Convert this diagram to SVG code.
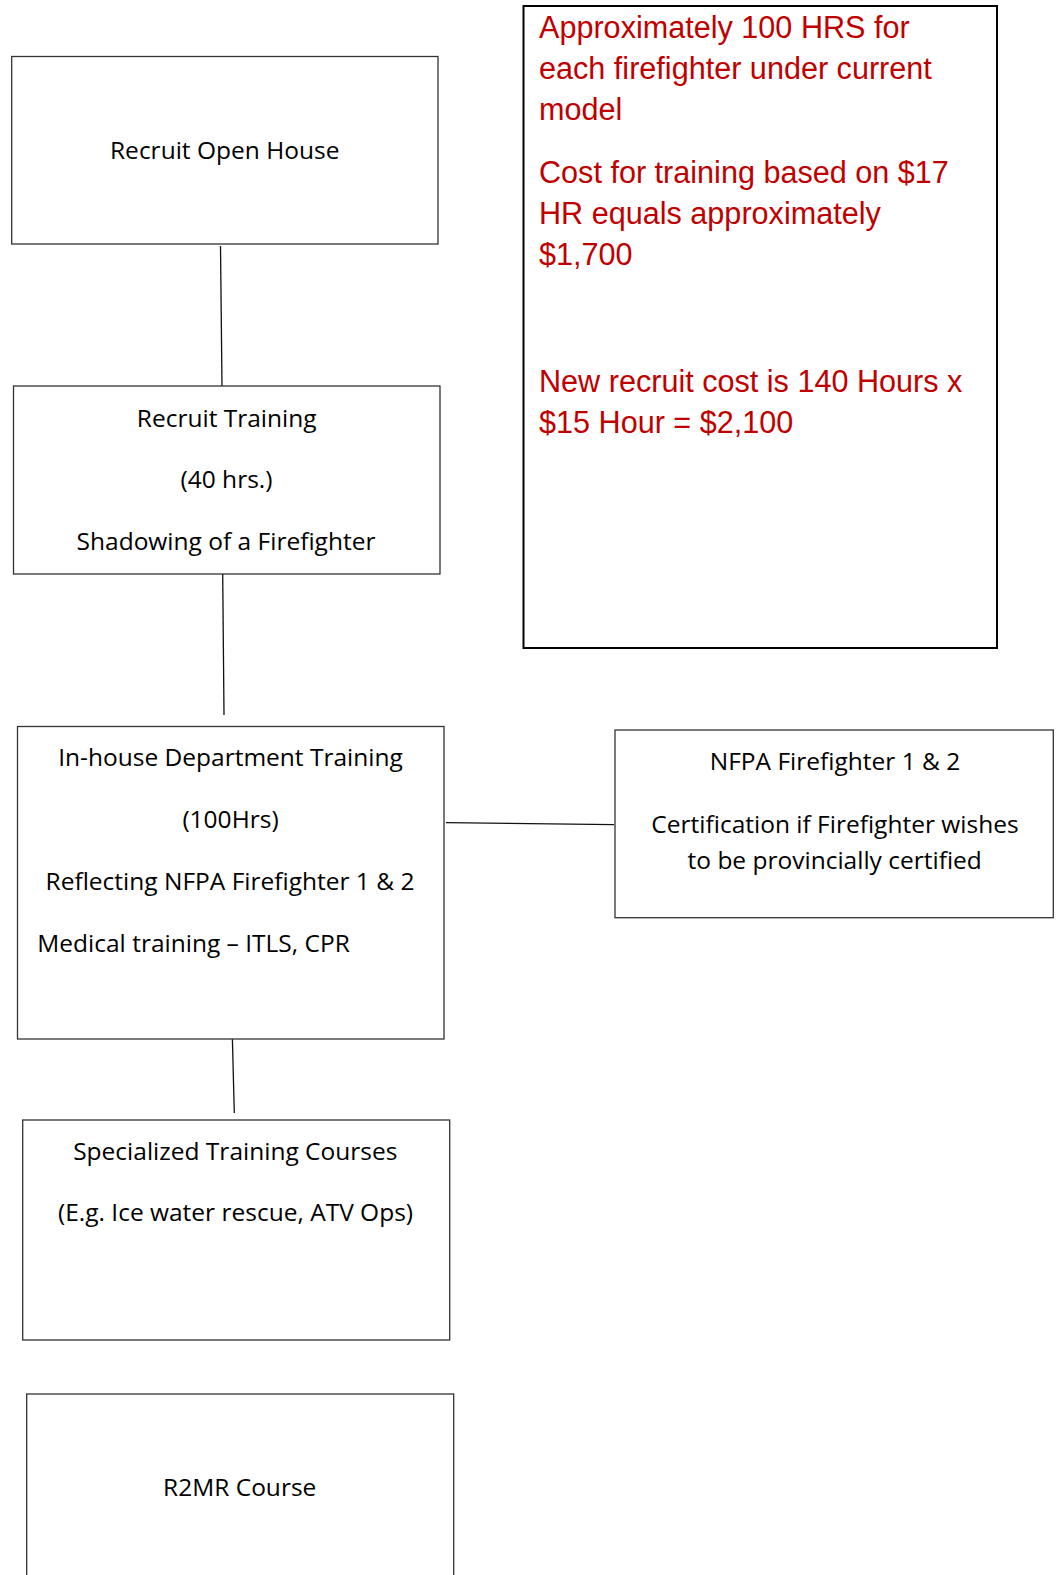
<svg xmlns="http://www.w3.org/2000/svg" width="1057" height="1575" viewBox="0 0 1057 1575">
<style>
.box{fill:#fff;stroke:#333;stroke-width:1.3}
.red{fill:#fff;stroke:#000;stroke-width:2}
.t{font-family:"Open Sans","Lato","Liberation Sans",sans-serif;font-size:24.5px;fill:#000}
.c{text-anchor:middle}
.r{font-family:"Liberation Sans",Arial,sans-serif;font-size:30.6px;fill:#C00000}
.ln{stroke:#111;stroke-width:1.3;fill:none}
</style>
<rect width="1057" height="1575" fill="#fff"/>
<g id="connectors">
<line class="ln" x1="220.5" y1="246" x2="222" y2="386"/>
<line class="ln" x1="222.7" y1="574" x2="224" y2="715"/>
<line class="ln" x1="232.3" y1="1035" x2="234.3" y2="1113"/>
<line class="ln" x1="446" y1="822.7" x2="614" y2="824.7"/>
</g>
<g id="note">
<rect class="red" x="523.5" y="6" width="473.5" height="642"/>
<text class="r" x="539" y="38.3">Approximately 100 HRS for</text>
<text class="r" x="539" y="79">each firefighter under current</text>
<text class="r" x="539" y="119.5">model</text>
<text class="r" x="539" y="183.3">Cost for training based on $17</text>
<text class="r" x="539" y="224">HR equals approximately</text>
<text class="r" x="539" y="265">$1,700</text>
<text class="r" x="539" y="392.3">New recruit cost is 140 Hours x</text>
<text class="r" x="539" y="433">$15 Hour = $2,100</text>
</g>
<g id="open-house">
<rect class="box" x="11.7" y="56.5" width="426.3" height="187.5"/>
<text class="t c" x="224.7" y="159">Recruit Open House</text>
</g>
<g id="recruit-training">
<rect class="box" x="13.5" y="386" width="426.5" height="188"/>
<text class="t c" x="226.7" y="426.5">Recruit Training</text>
<text class="t c" x="226.5" y="487.5">(40 hrs.)</text>
<text class="t c" x="226" y="549.5">Shadowing of a Firefighter</text>
</g>
<g id="inhouse">
<rect class="box" x="17.5" y="726.5" width="426.5" height="312.5"/>
<text class="t c" x="230.5" y="765.5">In-house Department Training</text>
<text class="t c" x="230.5" y="827.5">(100Hrs)</text>
<text class="t c" x="230" y="889.5">Reflecting NFPA Firefighter 1 &amp; 2</text>
<text class="t" x="37.3" y="952">Medical training – ITLS, CPR</text>
</g>
<g id="nfpa">
<rect class="box" x="615" y="730" width="438.3" height="187.7"/>
<text class="t c" x="835" y="769.5">NFPA Firefighter 1 &amp; 2</text>
<text class="t c" x="835" y="832.5">Certification if Firefighter wishes</text>
<text class="t c" x="834.7" y="869">to be provincially certified</text>
</g>
<g id="specialized">
<rect class="box" x="22.7" y="1120" width="427" height="220"/>
<text class="t c" x="235.3" y="1160">Specialized Training Courses</text>
<text class="t c" x="235.5" y="1221">(E.g. Ice water rescue, ATV Ops)</text>
</g>
<g id="r2mr">
<rect class="box" x="26.7" y="1394" width="427" height="200"/>
<text class="t c" x="239.7" y="1496">R2MR Course</text>
</g>
</svg>
